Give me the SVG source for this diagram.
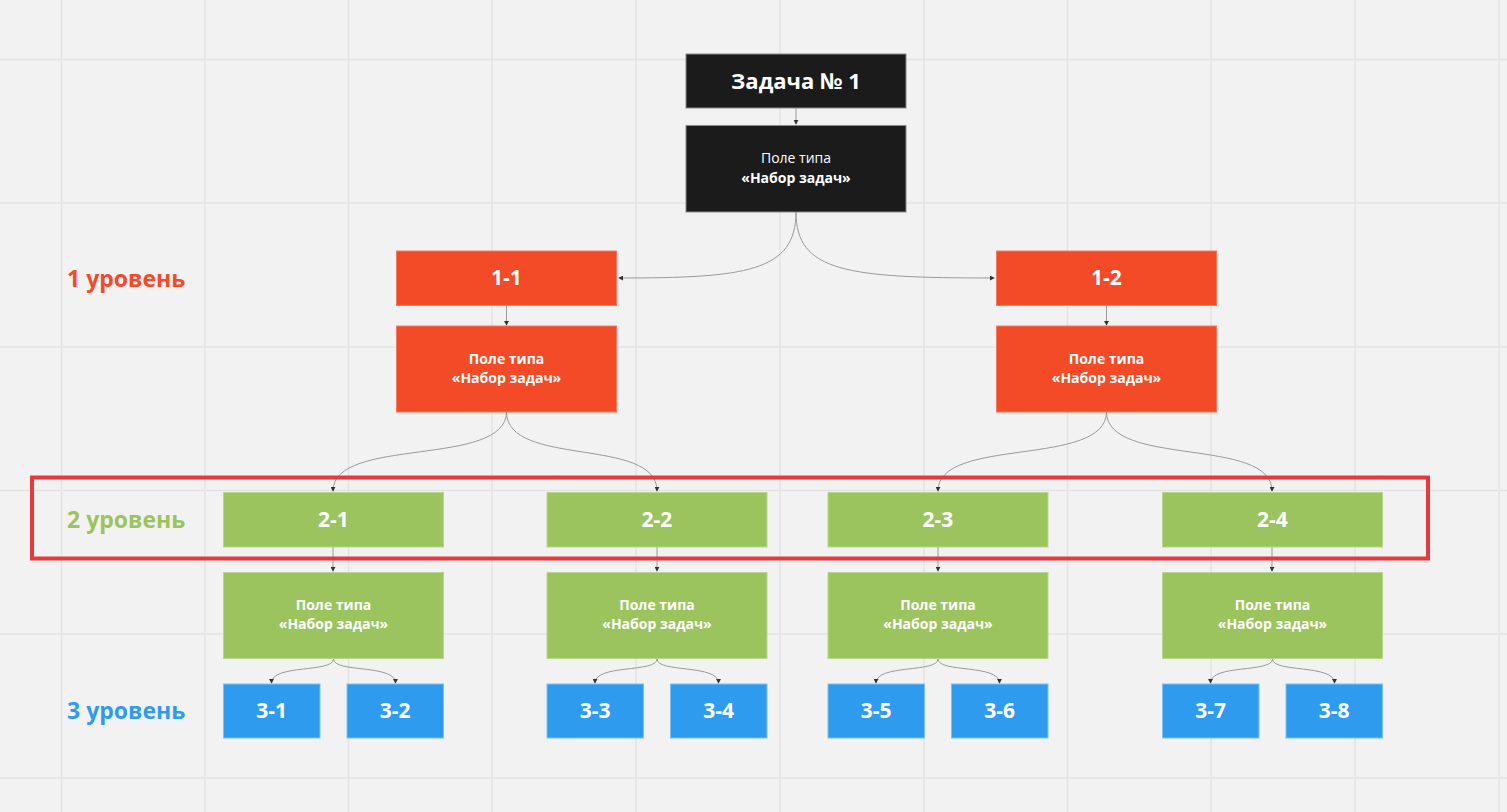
<svg xmlns="http://www.w3.org/2000/svg" width="1507" height="812" viewBox="0 0 1507 812">
<defs>
<style>
.grid{stroke:#e3e3e3;stroke-width:1.5}
.blk{fill:#1b1b1b;stroke:#8a8a8a;stroke-width:1}
.red{fill:#f34a27;stroke:#f77a60;stroke-width:1}
.grn{fill:#9bc45e;stroke:#b8d78c;stroke-width:1}
.blu{fill:#2f9bef;stroke:#7cc0f5;stroke-width:1}
text{font-family:"Open Sans","Noto Sans","Liberation Sans",sans-serif;fill:#ffffff;text-anchor:middle}
.t22{font-size:22px;font-weight:700}
.t21{font-size:21px;font-weight:700}
.t14{font-size:14px}
.t13{font-size:14px;font-weight:700}
.b{font-weight:700}
.lab{font-size:23px;font-weight:700;text-anchor:start}
.con{fill:none;stroke:#9a9a9a;stroke-width:1;marker-end:url(#ar)}
</style>
<marker id="ar" viewBox="0 0 6 6" refX="5" refY="3" markerWidth="5" markerHeight="5" orient="auto" markerUnits="userSpaceOnUse">
<path d="M0,0 L6,3 L0,6 z" fill="#333"/>
</marker>
</defs>
<rect width="1507" height="812" fill="#f2f2f2"/>
<g id="grid">
<path class="grid" d="M61.5,0V812M205,0V812M348.5,0V812M492,0V812M636,0V812M780,0V812M924,0V812M1067.5,0V812M1211,0V812M1355,0V812M1499,0V812M0,59.5H1507M0,203H1507M0,347H1507M0,490.5H1507M0,634H1507M0,778H1507"/>
</g>
<g id="connectors">
<path class="con" d="M796,108V124"/>
<path class="con" d="M796,212C796,272 745,278 619,278"/>
<path class="con" d="M796,212C796,272 847,278 994,278"/>
<path class="con" d="M506.5,306V325"/>
<path class="con" d="M1106.5,306V325"/>
<path class="con" d="M506.5,412C506,468 333,436 333,491"/>
<path class="con" d="M506.5,412C507,468 657,436 657,491"/>
<path class="con" d="M1106.5,412C1106,468 938,436 938,491"/>
<path class="con" d="M1106.5,412C1107,468 1272,436 1272,491"/>
<path class="con" d="M333,547V571"/>
<path class="con" d="M657,547V571"/>
<path class="con" d="M938,547V571"/>
<path class="con" d="M1272,547V571"/>
<path class="con" d="M333.5,659C333.5,673 271.5,664 271.5,683"/>
<path class="con" d="M333.5,659C333.5,673 395.5,664 395.5,683"/>
<path class="con" d="M657,659C657,673 595,664 595,683"/>
<path class="con" d="M657,659C657,673 718.5,664 718.5,683"/>
<path class="con" d="M938,659C938,673 876,664 876,683"/>
<path class="con" d="M938,659C938,673 999.5,664 999.5,683"/>
<path class="con" d="M1272.5,659C1272.5,673 1210.5,664 1210.5,683"/>
<path class="con" d="M1272.5,659C1272.5,673 1334.5,664 1334.5,683"/>
</g>
<g id="highlight">
<rect x="32" y="477.5" width="1396" height="81" fill="none" stroke="#e8383d" stroke-width="4"/>
</g>
<g id="labels">
<text class="lab" x="67" y="287" style="fill:#f34a27">1 уровень</text>
<text class="lab" x="67" y="528" style="fill:#9bc45e">2 уровень</text>
<text class="lab" x="67" y="719" style="fill:#2f9bef">3 уровень</text>
</g>
<g id="task1">
<rect class="blk" x="686" y="54" width="220" height="54"/>
<text class="t22" x="796" y="89">Задача № 1</text>
</g>
<g id="task1-field">
<rect class="blk" x="686" y="125.5" width="220" height="86.5"/>
<text class="t14" x="796" y="163">Поле типа</text>
<text class="t14 b" x="796" y="183">«Набор задач»</text>
</g>
<g id="n1-1">
<rect class="red" x="396.5" y="251" width="220" height="54.5"/>
<text class="t21" x="506.5" y="285">1-1</text>
</g>
<g id="n1-1-field">
<rect class="red" x="396.5" y="326" width="220" height="86"/>
<text class="t13" x="506.5" y="364">Поле типа</text>
<text class="t13" x="506.5" y="383">«Набор задач»</text>
</g>
<g id="n1-2">
<rect class="red" x="996.5" y="251" width="220" height="54.5"/>
<text class="t21" x="1106.5" y="285">1-2</text>
</g>
<g id="n1-2-field">
<rect class="red" x="996.5" y="326" width="220" height="86"/>
<text class="t13" x="1106.5" y="364">Поле типа</text>
<text class="t13" x="1106.5" y="383">«Набор задач»</text>
</g>
<g id="n2-1">
<rect class="grn" x="223.5" y="492.5" width="220" height="54.5"/>
<text class="t21" x="333.5" y="527">2-1</text>
</g>
<g id="n2-1-field">
<rect class="grn" x="223.5" y="572.5" width="220" height="86"/>
<text class="t13" x="333.5" y="610">Поле типа</text>
<text class="t13" x="333.5" y="629">«Набор задач»</text>
</g>
<g id="n2-2">
<rect class="grn" x="547" y="492.5" width="220" height="54.5"/>
<text class="t21" x="657" y="527">2-2</text>
</g>
<g id="n2-2-field">
<rect class="grn" x="547" y="572.5" width="220" height="86"/>
<text class="t13" x="657" y="610">Поле типа</text>
<text class="t13" x="657" y="629">«Набор задач»</text>
</g>
<g id="n2-3">
<rect class="grn" x="828" y="492.5" width="220" height="54.5"/>
<text class="t21" x="938" y="527">2-3</text>
</g>
<g id="n2-3-field">
<rect class="grn" x="828" y="572.5" width="220" height="86"/>
<text class="t13" x="938" y="610">Поле типа</text>
<text class="t13" x="938" y="629">«Набор задач»</text>
</g>
<g id="n2-4">
<rect class="grn" x="1162.5" y="492.5" width="220" height="54.5"/>
<text class="t21" x="1272.5" y="527">2-4</text>
</g>
<g id="n2-4-field">
<rect class="grn" x="1162.5" y="572.5" width="220" height="86"/>
<text class="t13" x="1272.5" y="610">Поле типа</text>
<text class="t13" x="1272.5" y="629">«Набор задач»</text>
</g>
<g id="n3-1"><rect class="blu" x="223.5" y="684" width="96.5" height="54"/><text class="t21" x="271.75" y="718">3-1</text></g>
<g id="n3-2"><rect class="blu" x="347" y="684" width="96.5" height="54"/><text class="t21" x="395.25" y="718">3-2</text></g>
<g id="n3-3"><rect class="blu" x="547" y="684" width="96.5" height="54"/><text class="t21" x="595.25" y="718">3-3</text></g>
<g id="n3-4"><rect class="blu" x="670.5" y="684" width="96.5" height="54"/><text class="t21" x="718.75" y="718">3-4</text></g>
<g id="n3-5"><rect class="blu" x="828" y="684" width="96.5" height="54"/><text class="t21" x="876.25" y="718">3-5</text></g>
<g id="n3-6"><rect class="blu" x="951.5" y="684" width="96.5" height="54"/><text class="t21" x="999.75" y="718">3-6</text></g>
<g id="n3-7"><rect class="blu" x="1162.5" y="684" width="96.5" height="54"/><text class="t21" x="1210.75" y="718">3-7</text></g>
<g id="n3-8"><rect class="blu" x="1286" y="684" width="96.5" height="54"/><text class="t21" x="1334.25" y="718">3-8</text></g>
</svg>
